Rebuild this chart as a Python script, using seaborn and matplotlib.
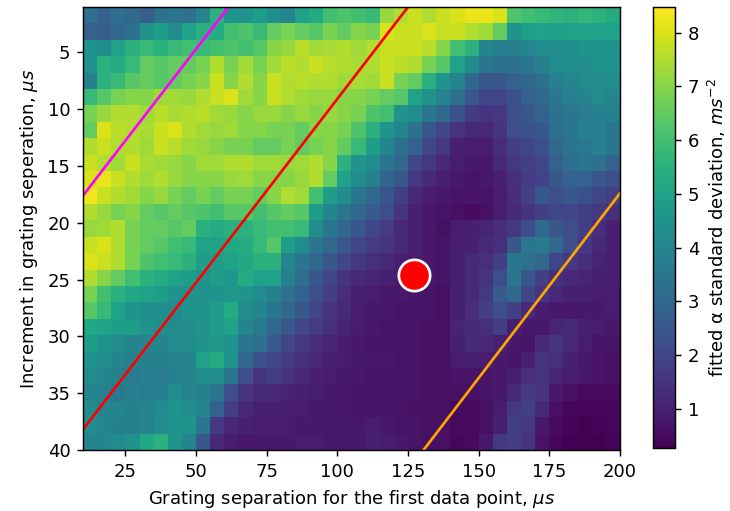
import numpy as np
import matplotlib
matplotlib.use('Agg')
import matplotlib.pyplot as plt
import seaborn as sns

# axis ranges of the grid (us)
x_range = [10, 200]
y_range = [1, 40]
x_ticks = [25, 50, 75, 100, 125, 150, 175, 200]
y_ticks = [5, 10, 15, 20, 25, 30, 35, 40]
cbar_ticks = [1, 2, 3, 4, 5, 6, 7, 8]

# fitted alpha std (ms^-2), rows = increment (top to bottom), cols = 5 us steps of first separation
alpha_std = [
    [3.3, 2.8, 3.2, 3.0, 2.7, 3.3, 3.5, 3.3, 4.0, 5.5, 4.5, 4.5, 4.8, 4.3, 4.0, 5.0, 5.3, 6.0, 6.2, 6.0, 5.8, 7.2, 7.5, 7.8, 7.5, 7.8, 8.0, 8.2, 8.2, 8.0, 6.2, 6.0, 5.8, 5.6, 5.5, 5.7, 5.5, 5.3],
    [2.8, 2.7, 3.0, 3.3, 4.5, 4.8, 4.2, 5.0, 5.5, 5.3, 6.0, 6.2, 5.8, 6.5, 6.8, 6.5, 6.3, 6.8, 6.5, 7.0, 6.8, 8.0, 7.8, 7.8, 8.0, 7.8, 7.8, 7.5, 7.3, 6.5, 4.5, 4.8, 5.0, 4.9, 5.0, 5.0, 5.0, 5.0],
    [4.5, 4.3, 5.0, 5.5, 5.8, 5.5, 5.8, 6.0, 5.8, 6.0, 6.2, 6.0, 6.3, 7.0, 7.2, 7.6, 7.3, 7.4, 7.5, 7.3, 7.5, 7.8, 7.8, 7.8, 7.6, 7.0, 6.0, 5.5, 4.0, 3.8, 3.8, 4.0, 4.3, 4.2, 4.3, 4.5, 4.5, 4.5],
    [4.5, 5.5, 5.3, 5.8, 6.5, 6.3, 6.5, 6.5, 6.8, 7.5, 6.8, 7.3, 6.8, 7.3, 7.6, 7.5, 7.8, 7.6, 7.5, 7.4, 7.5, 7.8, 7.6, 7.5, 6.8, 6.3, 5.0, 4.3, 3.5, 3.3, 3.3, 3.5, 3.8, 4.2, 4.3, 4.3, 4.5, 4.5],
    [3.8, 5.5, 5.8, 6.3, 6.5, 6.3, 6.5, 6.8, 7.0, 7.8, 7.0, 7.5, 7.0, 7.8, 7.5, 7.6, 7.5, 7.5, 7.3, 7.4, 7.3, 7.8, 6.8, 6.5, 5.5, 4.5, 4.0, 3.0, 2.5, 2.5, 2.8, 3.0, 3.3, 3.8, 4.0, 4.2, 4.3, 4.3],
    [5.8, 6.3, 6.8, 7.0, 7.0, 7.3, 7.3, 7.2, 7.5, 7.8, 8.0, 7.3, 7.0, 7.8, 7.5, 7.3, 7.2, 7.2, 7.0, 7.0, 6.8, 6.5, 6.3, 5.0, 4.5, 4.0, 3.3, 2.5, 2.0, 2.0, 2.3, 2.8, 3.0, 3.5, 3.8, 4.0, 4.2, 4.0],
    [6.8, 7.2, 7.5, 7.5, 7.3, 7.6, 7.4, 7.5, 7.6, 7.3, 7.2, 7.0, 7.2, 7.2, 7.0, 7.2, 7.0, 7.2, 7.0, 6.8, 6.2, 6.0, 4.5, 4.3, 3.5, 3.0, 2.3, 1.7, 1.5, 1.6, 2.2, 2.5, 2.8, 3.3, 3.5, 3.7, 3.8, 3.8],
    [6.5, 8.0, 7.6, 7.5, 7.4, 7.8, 8.0, 7.5, 7.3, 7.2, 7.3, 7.0, 7.0, 6.8, 6.8, 6.5, 7.0, 7.0, 6.8, 6.2, 5.5, 4.5, 4.0, 3.3, 2.5, 2.0, 1.5, 1.2, 1.2, 1.5, 2.2, 2.3, 2.5, 3.2, 3.5, 3.8, 3.8, 3.5],
    [7.5, 7.8, 7.5, 7.5, 7.3, 7.8, 7.6, 7.3, 7.2, 7.0, 6.8, 6.8, 6.5, 6.5, 6.8, 6.5, 6.8, 7.0, 6.5, 5.8, 4.8, 4.0, 3.3, 2.8, 2.0, 1.6, 1.0, 0.9, 0.9, 1.3, 1.8, 2.0, 2.3, 3.0, 3.4, 3.6, 3.8, 3.5],
    [7.8, 7.5, 7.3, 7.8, 7.4, 7.3, 7.2, 7.0, 7.3, 7.3, 7.5, 7.5, 7.3, 7.3, 7.2, 7.3, 7.5, 7.0, 5.5, 4.5, 4.2, 3.5, 3.0, 2.0, 1.6, 1.2, 0.9, 0.8, 0.8, 1.2, 1.6, 1.8, 2.0, 2.8, 3.2, 3.5, 3.3, 2.8],
    [8.0, 8.2, 7.8, 7.5, 7.3, 7.5, 7.2, 7.0, 7.0, 7.0, 7.2, 7.3, 7.0, 7.0, 7.0, 7.2, 7.5, 6.5, 5.0, 4.3, 3.8, 2.9, 2.5, 1.6, 1.2, 1.0, 0.8, 0.7, 0.8, 1.0, 1.4, 1.7, 1.9, 2.5, 2.8, 2.8, 2.5, 2.2],
    [8.3, 7.8, 7.5, 7.3, 7.0, 7.2, 6.8, 6.5, 6.8, 6.5, 6.8, 6.8, 6.5, 7.0, 7.5, 7.3, 6.0, 4.8, 4.3, 3.5, 3.0, 2.4, 1.8, 1.2, 0.9, 0.8, 0.7, 0.7, 0.7, 0.9, 1.3, 1.8, 2.5, 2.2, 2.5, 2.3, 2.0, 1.8],
    [7.5, 7.2, 6.8, 7.0, 6.5, 6.3, 6.5, 6.3, 6.2, 6.0, 6.3, 6.3, 6.0, 6.3, 6.5, 6.3, 4.8, 4.0, 3.5, 3.0, 2.6, 2.2, 1.5, 1.0, 0.8, 0.7, 0.6, 0.5, 0.6, 0.9, 1.2, 1.5, 1.8, 2.0, 2.0, 1.8, 1.6, 1.4],
    [7.2, 7.3, 7.5, 6.8, 6.5, 6.5, 6.3, 6.5, 5.5, 5.3, 5.5, 5.5, 5.8, 6.0, 6.0, 5.8, 4.3, 3.5, 3.0, 2.5, 2.0, 1.7, 1.2, 1.0, 0.8, 0.6, 0.9, 1.0, 1.1, 1.3, 1.6, 2.2, 3.0, 2.5, 2.2, 1.8, 1.3, 1.0],
    [7.8, 8.0, 7.5, 6.8, 6.5, 6.3, 6.0, 5.8, 5.0, 5.0, 5.2, 5.3, 5.8, 6.3, 4.8, 4.2, 3.5, 3.0, 2.5, 2.0, 1.7, 1.5, 1.2, 1.0, 0.8, 0.7, 0.9, 1.0, 1.2, 1.4, 2.5, 3.5, 3.6, 3.0, 2.2, 1.6, 1.2, 1.0],
    [8.0, 7.8, 7.5, 6.8, 6.2, 6.0, 5.8, 5.5, 4.8, 4.8, 5.0, 5.2, 5.5, 5.5, 4.0, 3.5, 3.0, 2.5, 2.0, 1.6, 1.4, 1.2, 1.0, 0.9, 0.8, 0.7, 1.0, 1.2, 1.4, 1.8, 3.5, 3.3, 3.0, 2.0, 1.6, 1.3, 1.1, 1.0],
    [7.5, 7.0, 6.5, 6.0, 5.5, 5.3, 5.0, 4.8, 4.5, 4.8, 4.6, 5.3, 5.0, 5.0, 3.8, 3.2, 2.5, 2.0, 1.5, 1.2, 1.1, 1.0, 0.9, 0.8, 0.8, 0.7, 1.0, 1.2, 1.5, 2.2, 3.5, 2.5, 1.8, 1.4, 1.2, 1.1, 1.0, 1.0],
    [6.8, 6.0, 5.5, 5.2, 5.0, 4.8, 4.5, 4.5, 4.5, 4.5, 4.6, 4.5, 4.2, 3.8, 3.3, 2.8, 2.2, 1.8, 1.3, 1.0, 0.9, 0.8, 0.8, 0.7, 0.7, 0.6, 1.0, 1.2, 1.6, 2.6, 3.0, 2.0, 1.5, 1.2, 1.0, 1.0, 0.9, 0.9],
    [6.3, 5.8, 5.0, 4.5, 4.3, 4.3, 4.2, 4.5, 4.5, 4.8, 5.3, 4.3, 4.0, 3.5, 3.0, 2.5, 2.0, 1.5, 1.2, 0.9, 0.8, 0.8, 0.7, 0.7, 0.7, 0.6, 1.0, 1.3, 1.8, 2.2, 1.8, 1.2, 0.9, 0.8, 0.8, 0.8, 0.8, 0.9],
    [5.2, 5.0, 4.8, 4.8, 4.5, 4.3, 4.2, 4.3, 4.5, 4.8, 5.0, 4.0, 3.6, 3.0, 2.5, 2.0, 1.7, 1.4, 1.1, 0.9, 0.8, 0.7, 0.7, 0.7, 0.6, 0.6, 1.1, 1.2, 1.4, 1.8, 1.0, 0.8, 0.8, 1.1, 1.2, 1.0, 0.9, 0.8],
    [4.8, 4.5, 4.3, 4.0, 4.0, 4.0, 4.2, 4.2, 4.5, 4.6, 4.5, 3.5, 3.2, 2.6, 2.0, 1.6, 1.3, 1.1, 0.9, 0.8, 0.7, 0.7, 0.7, 0.7, 0.6, 0.6, 1.0, 1.2, 1.2, 1.0, 0.8, 0.7, 1.2, 1.5, 1.2, 0.9, 0.7, 0.7],
    [4.5, 4.3, 4.0, 3.8, 3.8, 3.8, 3.9, 4.0, 5.0, 5.3, 4.5, 3.0, 2.3, 2.0, 1.7, 1.4, 1.2, 1.0, 0.9, 0.8, 0.8, 0.8, 0.7, 0.7, 0.6, 0.6, 0.9, 1.0, 0.9, 0.8, 0.7, 1.0, 1.5, 1.4, 1.0, 0.8, 0.7, 0.6],
    [4.2, 4.0, 3.8, 3.7, 3.8, 3.7, 3.8, 4.0, 4.3, 4.3, 3.5, 2.2, 1.5, 1.8, 1.5, 1.2, 1.0, 0.9, 0.8, 0.8, 0.7, 0.7, 0.7, 0.7, 0.6, 0.6, 0.7, 0.7, 0.7, 0.8, 1.0, 1.3, 1.5, 1.1, 0.9, 0.8, 0.7, 0.6],
    [4.0, 3.8, 3.6, 3.8, 3.7, 3.8, 4.3, 4.0, 3.8, 3.5, 2.2, 1.5, 1.2, 1.2, 1.1, 1.0, 0.9, 0.8, 0.8, 0.7, 0.7, 0.7, 0.7, 0.7, 0.6, 0.6, 0.6, 0.6, 0.7, 0.8, 1.2, 1.7, 1.5, 0.8, 0.6, 0.5, 0.5, 0.5],
    [4.2, 4.0, 4.0, 3.8, 4.0, 4.2, 4.5, 4.3, 4.0, 2.8, 1.8, 1.2, 1.0, 1.0, 0.9, 0.9, 0.8, 0.8, 0.8, 0.7, 0.7, 0.7, 0.7, 0.6, 0.6, 0.6, 0.5, 0.5, 0.6, 0.9, 1.6, 1.8, 1.2, 0.6, 0.4, 0.4, 0.4, 0.4],
    [4.3, 4.0, 3.8, 3.8, 4.0, 4.3, 4.5, 4.5, 3.5, 1.6, 1.2, 1.0, 0.9, 0.9, 0.9, 0.8, 0.8, 0.8, 0.8, 0.8, 0.9, 0.8, 0.7, 0.7, 0.6, 0.6, 0.5, 0.5, 0.6, 1.0, 1.8, 1.6, 0.8, 0.5, 0.35, 0.3, 0.35, 0.4],
    [4.0, 4.0, 4.2, 4.5, 5.2, 5.5, 4.5, 4.0, 2.5, 1.2, 0.9, 0.8, 0.8, 0.8, 0.8, 0.9, 0.9, 0.8, 0.8, 0.8, 1.0, 0.9, 0.8, 0.7, 0.6, 0.6, 0.4, 0.5, 0.8, 1.6, 1.8, 1.5, 0.7, 0.4, 0.3, 0.3, 0.3, 0.35],
]

# guide lines (end points in us) and the chosen point
magenta_x = [10, 61.5]
magenta_y = [17.6, 1.0]
red_x = [10, 125]
red_y = [38.2, 1.0]
orange_x = [130.5, 200]
orange_y = [40, 17.4]
best_x = [127]
best_y = [24.6]

grid = np.array(alpha_std)
nrows, ncols = grid.shape
dx = (x_range[1] - x_range[0]) / ncols
dy = (y_range[1] - y_range[0]) / nrows


def cx(v):
    return (np.asarray(v, float) - x_range[0]) / dx


def cy(v):
    return (np.asarray(v, float) - y_range[0]) / dy


fig = plt.figure(figsize=(730 / 130, 511 / 130), dpi=130)
ax = fig.add_axes([0.1137, 0.1194, 0.7356, 0.8669])
cax = fig.add_axes([0.8945, 0.1233, 0.0301, 0.863])

sns.heatmap(grid, ax=ax, cbar_ax=cax, cmap='viridis', vmin=0.27, vmax=8.48,
            xticklabels=False, yticklabels=False,
            cbar_kws={'label': 'fitted α standard deviation, $ms^{-2}$', 'ticks': cbar_ticks})
cbar = ax.collections[0].colorbar

ax.plot(cx(magenta_x), cy(magenta_y), color='magenta', lw=1.5)
ax.plot(cx(red_x), cy(red_y), color='red', lw=1.5)
ax.plot(cx(orange_x), cy(orange_y), color='orange', lw=1.5)
ax.scatter(cx(best_x), cy(best_y), s=300, color='red', edgecolors='white', linewidths=1.5, zorder=5)

ax.set_xlim(0, ncols)
ax.set_ylim(nrows, 0)
ax.set_xticks(cx(x_ticks))
ax.set_xticklabels([str(t) for t in x_ticks], rotation=0)
ax.set_yticks(cy(y_ticks))
ax.set_yticklabels([str(t) for t in y_ticks], rotation=0)
ax.set_xlabel('Grating separation for the first data point, $\\mu s$')
ax.set_ylabel('Increment in grating seperation, $\\mu s$')

for s in ax.spines.values():
    s.set_visible(True)
    s.set_linewidth(0.8)
cbar.outline.set_visible(True)
cbar.outline.set_linewidth(0.8)

fig.savefig('out.png', dpi=130)
